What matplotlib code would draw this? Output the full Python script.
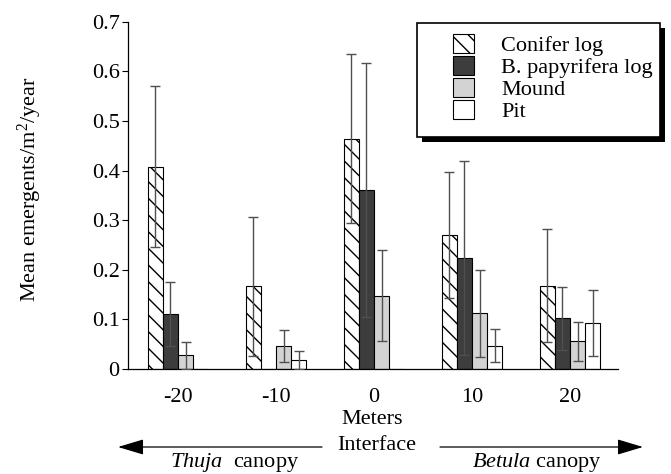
import matplotlib
matplotlib.use('Agg')
import matplotlib.pyplot as plt
import numpy as np
from matplotlib.patches import Rectangle, Patch

plt.rcParams['font.family'] = ['Liberation Serif', 'DejaVu Serif']
plt.rcParams['mathtext.fontset'] = 'custom'
plt.rcParams['mathtext.rm'] = 'Liberation Serif'
plt.rcParams['mathtext.it'] = 'Liberation Serif:italic'
plt.rcParams['hatch.linewidth'] = 1.0

# data
meters = ['-20', '-10', '0', '10', '20']
series = ['Conifer log', 'B. papyrifera log', 'Mound', 'Pit']
conifer = [0.408, 0.167, 0.464, 0.270, 0.168]
conifer_err = [0.163, 0.140, 0.170, 0.127, 0.114]
papyrifera = [0.111, 0.0, 0.361, 0.224, 0.102]
papyrifera_err = [0.065, 0.0, 0.256, 0.196, 0.063]
mound = [0.028, 0.046, 0.148, 0.112, 0.056]
mound_err = [0.027, 0.032, 0.092, 0.087, 0.039]
pit = [0.0, 0.018, 0.0, 0.047, 0.093]
pit_err = [0.0, 0.018, 0.0, 0.033, 0.066]

W, H = 671, 474
fs = 16
fig = plt.figure(figsize=(W / 100, H / 100), dpi=100)
ax = fig.add_axes([128 / W, 1 - 369 / H, (618 - 128) / W, (369 - 21.7) / H])

x = np.arange(len(meters))
w = 0.154
styles = [
    dict(facecolor='white', hatch='\\\\'),
    dict(facecolor='#3d3d3d'),
    dict(facecolor='#d3d3d3'),
    dict(facecolor='white'),
]
values = [conifer, papyrifera, mound, pit]
errors = [conifer_err, papyrifera_err, mound_err, pit_err]

for k in range(4):
    pos = x + (k - 1.5) * w
    v = np.array(values[k])
    e = np.array(errors[k])
    ax.bar(pos, v, w, edgecolor='black', linewidth=0.8, zorder=2, **styles[k])
    m = e > 0
    ax.errorbar(pos[m], v[m], yerr=e[m], fmt='none', ecolor='#505050',
                elinewidth=1.0, capsize=3.5, capthick=1.0, zorder=3)

ax.set_xlim(-0.51, 4.49)
ax.set_ylim(0, 0.7)
ax.set_xticks(x)
ax.set_xticklabels(meters, fontsize=fs)
ax.set_yticks(np.arange(0, 0.71, 0.1))
ax.set_yticklabels(['0', '0.1', '0.2', '0.3', '0.4', '0.5', '0.6', '0.7'], fontsize=fs)
ax.tick_params(axis='x', length=0, pad=14)
ax.tick_params(axis='y', length=4, width=0.8, pad=2)
ax.spines['top'].set_visible(False)
ax.spines['right'].set_visible(False)
ax.spines['left'].set_linewidth(0.9)
ax.spines['bottom'].set_linewidth(0.9)

fig.text(30 / W, 1 - 189 / H, 'Mean emergents/m$^2$/year', rotation=90,
         ha='center', va='center', fontsize=fs)

# legend box with shadow
fig.patches.append(Rectangle((422 / W, 1 - 142 / H), (660 - 417) / W, (137 - 23) / H,
                             transform=fig.transFigure, facecolor='black',
                             edgecolor='none', zorder=4))
fig.patches.append(Rectangle((417 / W, 1 - 137 / H), (660 - 417) / W, (137 - 23) / H,
                             transform=fig.transFigure, facecolor='white',
                             edgecolor='black', linewidth=1.2, zorder=5))
handles = [Patch(edgecolor='black', linewidth=0.8, **s) for s in styles]
leg = fig.legend(handles, series, loc='upper left',
                 bbox_to_anchor=(437 / W, 1 - 18 / H), frameon=False,
                 fontsize=fs, handlelength=0.95, handleheight=0.95,
                 handletextpad=1.25, labelspacing=0.0, borderpad=0.2)
leg.set_zorder(6)

# bottom annotations
fig.text(372 / W, 1 - 419 / H, 'Meters', ha='center', va='center', fontsize=fs)
fig.text(377 / W, 1 - 446 / H, 'Interface', ha='center', va='center', fontsize=fs)
fig.text(235 / W, 1 - 462 / H, '$\\it{Thuja}$  canopy', ha='center', va='center', fontsize=fs)
fig.text(537 / W, 1 - 462 / H, '$\\it{Betula}$ canopy', ha='center', va='center', fontsize=fs)

arrow = dict(arrowstyle='-|>,head_length=1.0,head_width=0.3', mutation_scale=16,
             color='black', linewidth=0.9, shrinkA=0, shrinkB=0)
fig.add_artist(plt.Annotation('', xy=(118 / W, 1 - 447 / H), xytext=(322 / W, 1 - 447 / H),
                              xycoords='figure fraction', textcoords='figure fraction',
                              arrowprops=arrow))
fig.add_artist(plt.Annotation('', xy=(643 / W, 1 - 447 / H), xytext=(440 / W, 1 - 447 / H),
                              xycoords='figure fraction', textcoords='figure fraction',
                              arrowprops=arrow))

fig.savefig('out.png', dpi=100)
